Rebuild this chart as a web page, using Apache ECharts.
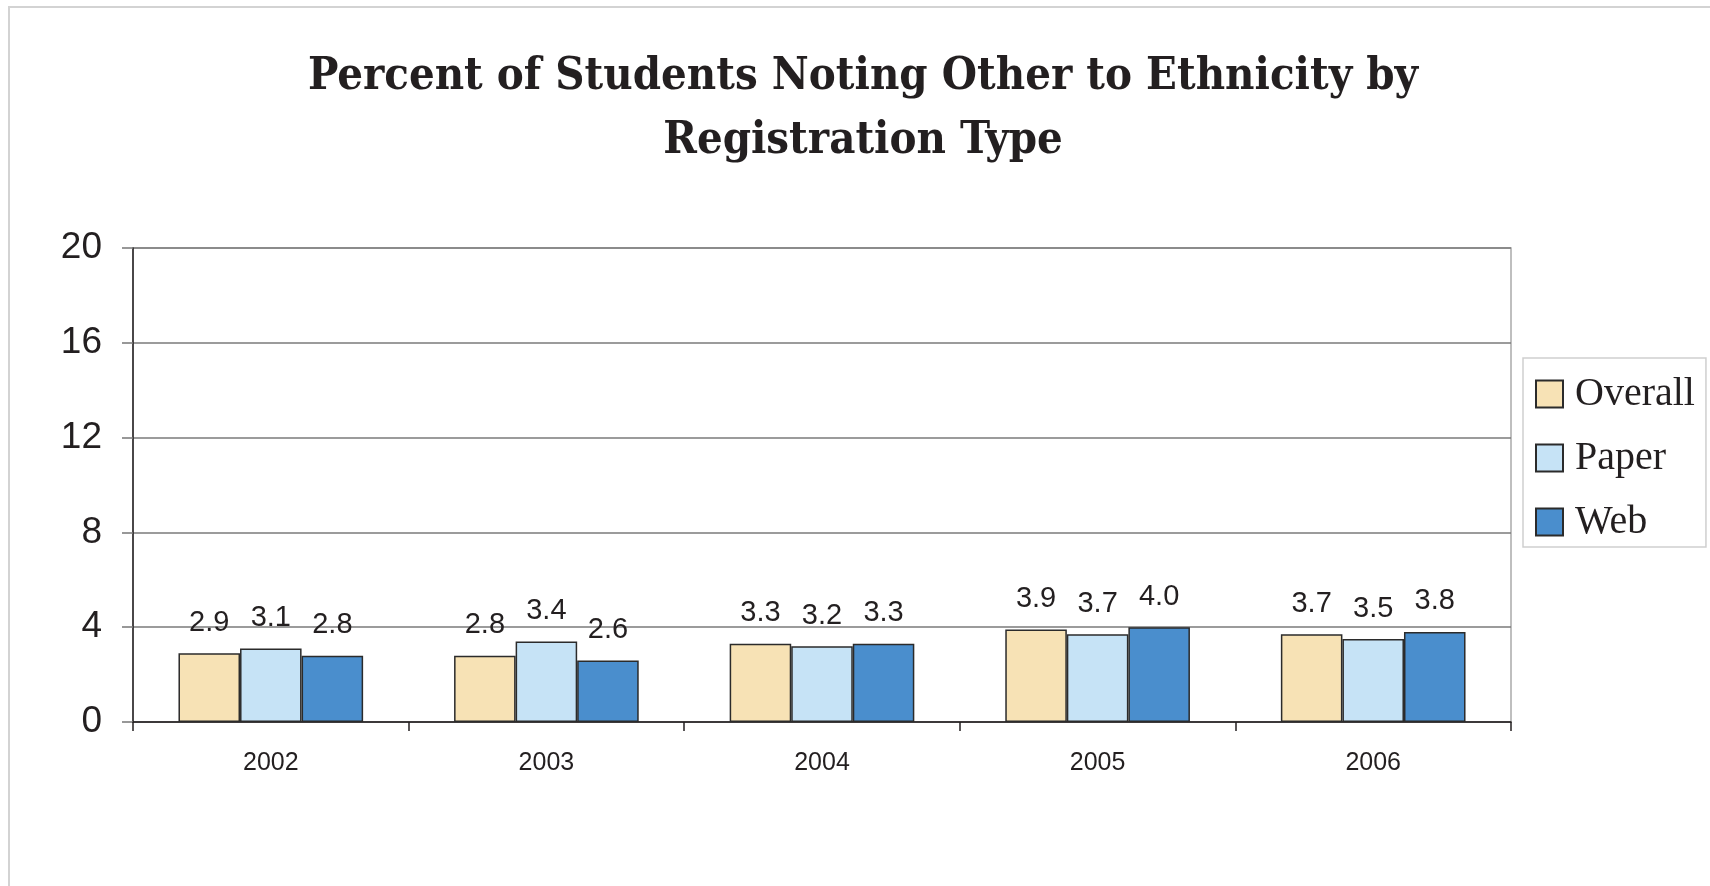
<!DOCTYPE html>
<html>
<head>
<meta charset="utf-8">
<script src="https://cdn.jsdelivr.net/npm/echarts@6/dist/echarts.min.js"></script>
<style>
  html, body { margin: 0; padding: 0; background: #fff; }
  #frame { position: absolute; left: 8px; top: 6px; width: 1720px; height: 900px; border-left: 2px solid #d3d3d3; border-top: 2px solid #d3d3d3; }
  #chart { position: absolute; left: 0; top: 0; width: 1710px; height: 886px; }
</style>
</head>
<body>
<div id="frame"></div>
<div id="chart"></div>
<script>
const titleText = "Percent of Students Noting Other to Ethnicity by\nRegistration Type";
const years = ["2002", "2003", "2004", "2005", "2006"];
const overall = [2.9, 2.8, 3.3, 3.9, 3.7];
const paper = [3.1, 3.4, 3.2, 3.7, 3.5];
const web = [2.8, 2.6, 3.3, 4.0, 3.8];
const seriesNames = ["Overall", "Paper", "Web"];
const seriesColors = ["#f7e2b5", "#c6e3f6", "#4a8ecd"];
const seriesData = [overall, paper, web];

const chart = echarts.init(document.getElementById('chart'), null, { renderer: 'canvas' });
const labelFont = "'Liberation Sans', Arial, Helvetica, sans-serif";

chart.setOption({
  animation: false,
  backgroundColor: 'transparent',
  title: {
    text: titleText,
    left: 858,
    top: 40,
    textAlign: 'center',
    textStyle: {
      fontFamily: "'DejaVu Serif Condensed', 'DejaVu Serif', serif",
      fontWeight: 'bold',
      fontSize: 45,
      lineHeight: 64,
      color: '#231f20'
    }
  },
  legend: {
    orient: 'vertical',
    left: 1523,
    top: 358,
    padding: [16, 11, 5, 12],
    itemWidth: 27,
    itemHeight: 27,
    itemGap: 24,
    borderColor: '#cfcfcf',
    borderWidth: 1.5,
    backgroundColor: '#fff',
    icon: 'rect',
    textStyle: {
      fontFamily: "'Liberation Serif', 'Times New Roman', serif",
      fontSize: 40,
      color: '#231f20',
      padding: [0, 0, 0, 7]
    },
    data: seriesNames
  },
  grid: {
    left: 133,
    right: 199,
    top: 248,
    bottom: 164,
    show: true,
    borderColor: '#aaaaaa',
    borderWidth: 1.5,
    containLabel: false
  },
  xAxis: {
    type: 'category',
    data: years,
    axisLine: { show: true, lineStyle: { color: '#231f20', width: 1.5 } },
    axisTick: { show: true, alignWithLabel: false, length: 9, lineStyle: { color: '#231f20', width: 1.5 } },
    axisLabel: { fontFamily: labelFont, fontSize: 25, color: '#231f20', margin: 29 }
  },
  yAxis: {
    type: 'value',
    min: 0,
    max: 20,
    interval: 4,
    axisLine: { show: true, lineStyle: { color: '#231f20', width: 1.5 } },
    axisTick: { show: true, inside: false, length: 11, lineStyle: { color: '#777', width: 1.5 } },
    axisLabel: { fontFamily: labelFont, fontSize: 37, color: '#231f20', margin: 31 },
    splitLine: { show: true, lineStyle: { color: '#7a7a7a', width: 1.5 } }
  },
  series: seriesNames.map((name, i) => ({
    name: name,
    type: 'bar',
    data: seriesData[i],
    barGap: '0%',
    barCategoryGap: '33%',
    itemStyle: { color: seriesColors[i], borderColor: '#2b2b2b', borderWidth: 1.5 },
    label: {
      show: true,
      position: 'top',
      distance: 16,
      fontFamily: labelFont,
      fontSize: 29,
      color: '#231f20',
      formatter: p => p.value.toFixed(1)
    }
  }))
});
</script>
</body>
</html>
